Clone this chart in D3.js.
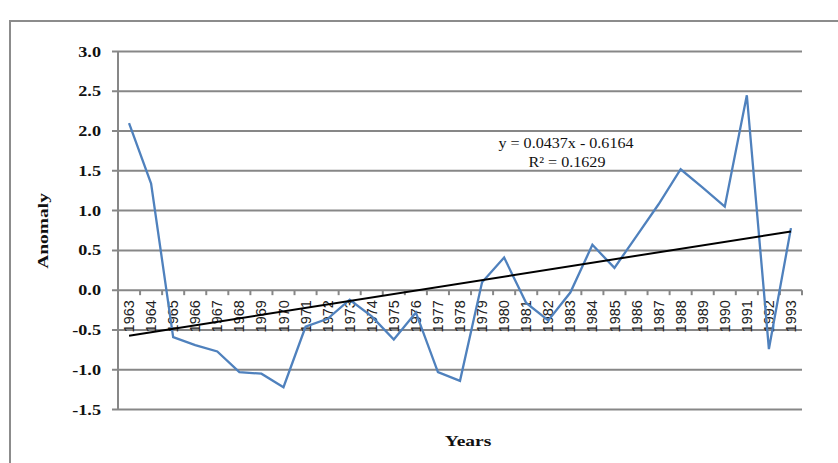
<!DOCTYPE html>
<html>
<head>
<meta charset="utf-8">
<script src="https://cdn.jsdelivr.net/npm/d3@7"></script>
<style>
  html, body { margin: 0; padding: 0; background: #fff; }
  svg { display: block; }
</style>
</head>
<body>
<svg id="chart" width="838" height="463"></svg>
<script>
// Annual anomaly series, 1963–1993
const years = ["1963","1964","1965","1966","1967","1968","1969","1970","1971","1972",
               "1973","1974","1975","1976","1977","1978","1979","1980","1981","1982",
               "1983","1984","1985","1986","1987","1988","1989","1990","1991","1992","1993"];
const anomaly = [2.10, 1.34, -0.59, -0.69, -0.77, -1.03, -1.05, -1.22, -0.46, -0.36,
                 -0.12, -0.33, -0.62, -0.28, -1.03, -1.14, 0.10, 0.41, -0.16, -0.38,
                 -0.03, 0.57, 0.28, 0.68, 1.08, 1.52, 1.29, 1.05, 2.45, -0.74, 0.78];
const yTicks = [-1.5, -1.0, -0.5, 0.0, 0.5, 1.0, 1.5, 2.0, 2.5, 3.0];

// Linear trend (x = 1..n)
const trendSlope = 0.0437;
const trendIntercept = -0.6164;
const trendR2 = 0.1629;

const svg = d3.select("#chart");
const gridColor = "#878787";
const lineColor = "#4f81bd";

// Outer chart frame
svg.append("rect")
  .attr("x", 10).attr("y", 21)
  .attr("width", 900).attr("height", 500)
  .attr("fill", "none").attr("stroke", "#8c8c8c").attr("stroke-width", 2);

const x = d3.scaleBand().domain(years).range([118, 802]).padding(0);
const y = d3.scaleLinear().domain([-1.5, 3.0]).range([409.5, 51.5]);
const xc = d => x(d) + x.bandwidth() / 2;

// Horizontal gridlines
svg.append("g").selectAll("line").data(yTicks).join("line")
  .attr("x1", 112).attr("x2", 802)
  .attr("y1", d => y(d)).attr("y2", d => y(d))
  .attr("stroke", gridColor).attr("stroke-width", 2);

// Vertical axis line
svg.append("line")
  .attr("x1", 118).attr("x2", 118)
  .attr("y1", y(3.0)).attr("y2", y(-1.5))
  .attr("stroke", gridColor).attr("stroke-width", 2);

// Y tick labels (bold, wide serif)
svg.append("g").selectAll("g").data(yTicks).join("g")
  .attr("transform", d => `translate(101,${y(d) + 5}) scale(1.3,1)`)
  .append("text")
  .attr("text-anchor", "end")
  .attr("font-family", "Liberation Serif, serif")
  .attr("font-weight", "bold")
  .attr("font-size", 14)
  .attr("fill", "#111")
  .text(d => d.toFixed(1));

// X axis at zero with ticks on category boundaries
const y0 = y(0);
const boundaries = years.map(d => x(d)).concat([x(years[years.length - 1]) + x.bandwidth()]);
svg.append("g").selectAll("line").data(boundaries).join("line")
  .attr("x1", d => d).attr("x2", d => d)
  .attr("y1", y0).attr("y2", y0 + 5)
  .attr("stroke", gridColor).attr("stroke-width", 2);

// Rotated year labels
svg.append("g").selectAll("text").data(years).join("text")
  .attr("transform", d => `translate(${xc(d)},${y0 + 10}) rotate(-90)`)
  .attr("text-anchor", "end")
  .attr("dy", "0.35em")
  .attr("font-family", "Liberation Sans, Arial, sans-serif")
  .attr("font-size", 14.5)
  .attr("fill", "#222")
  .text(d => d);

// Anomaly series
const line = d3.line()
  .x((d, i) => xc(years[i]))
  .y(d => y(d));
svg.append("path")
  .datum(anomaly)
  .attr("d", line)
  .attr("fill", "none")
  .attr("stroke", lineColor)
  .attr("stroke-width", 2.3)
  .attr("stroke-linejoin", "miter");

// Trend line
const n = years.length;
svg.append("line")
  .attr("x1", xc(years[0])).attr("y1", y(trendSlope * 1 + trendIntercept))
  .attr("x2", xc(years[n - 1])).attr("y2", y(trendSlope * n + trendIntercept))
  .attr("stroke", "#000").attr("stroke-width", 2);

// Trend equation
const eq = svg.append("g").attr("font-family", "Liberation Serif, serif").attr("font-size", 14).attr("fill", "#111");
eq.append("g").attr("transform", "translate(566,148) scale(1.15,1)")
  .append("text").attr("text-anchor", "middle")
  .text(`y = ${trendSlope}x  - ${Math.abs(trendIntercept)}`);
eq.append("g").attr("transform", "translate(567,167) scale(1.15,1)")
  .append("text").attr("text-anchor", "middle")
  .text(`R² = ${trendR2}`);

// Axis titles
svg.append("g").attr("transform", "translate(468,446) scale(1.3,1)")
  .append("text")
  .attr("text-anchor", "middle")
  .attr("font-family", "Liberation Serif, serif")
  .attr("font-weight", "bold")
  .attr("font-size", 15)
  .attr("fill", "#111")
  .text("Years");

svg.append("g").attr("transform", "translate(48,231) rotate(-90) scale(1.3,1)")
  .append("text")
  .attr("text-anchor", "middle")
  .attr("font-family", "Liberation Serif, serif")
  .attr("font-weight", "bold")
  .attr("font-size", 15)
  .attr("fill", "#111")
  .text("Anomaly");
</script>
</body>
</html>
